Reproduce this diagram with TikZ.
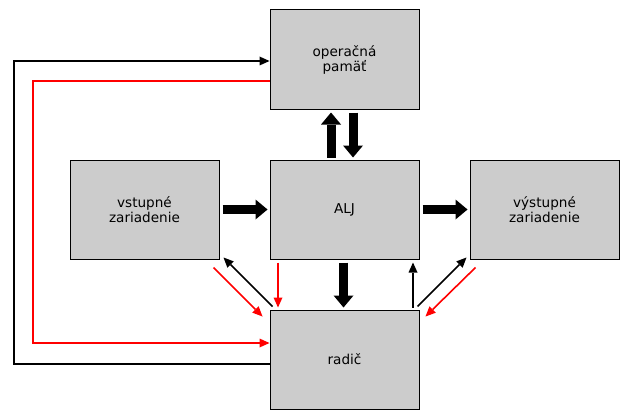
\documentclass[tikz,border=0pt]{standalone}
\usepackage{fontspec}
\setmainfont{DejaVu Sans}
\usetikzlibrary{arrows.meta}
\definecolor{boxgray}{HTML}{CCCCCC}
\definecolor{myred}{HTML}{FF0000}
\begin{document}
\begin{tikzpicture}[x=1pt,y=-1pt,
  unit/.style={draw=black, line width=1pt, fill=boxgray, minimum width=149pt,
    minimum height=99pt, inner sep=0pt, align=center,
    font=\fontsize{13.6}{15}\selectfont, text=black},
  bigarrow/.style={draw=black, line width=9pt,
    -{Triangle[width=20pt,length=12pt,line width=0pt]}},
  thinblack/.style={draw=black, line width=1.6pt,
    -{Triangle[width=9pt,length=10pt,line width=0pt]}},
  thinred/.style={draw=myred, line width=1.6pt,
    -{Triangle[width=9pt,length=10pt,line width=0pt]}},
  busline/.style={line width=2pt}
]
\useasboundingbox (0,0) rectangle (640,420);
\fill[white] (0,0) rectangle (640,420);

% units
\node[unit] (mem) at (344.5,59.5)  {operačná\\pamäť};
\node[unit] (alj) at (344.5,209.5) {ALJ};
\node[unit] (in)  at (144.5,209.5) {vstupné\\zariadenie};
\node[unit] (out) at (544.5,209.5) {výstupné\\zariadenie};
\node[unit] (rad) at (344.5,359.5) {radič};

% data paths (thick)
\draw[bigarrow] ([shift={(8.5,3)}]mem.south) -- ([shift={(8.5,-2)}]alj.north);
\draw[bigarrow] ([shift={(-13.5,-2)}]alj.north) -- ([shift={(-13.5,3)}]mem.south);
\draw[bigarrow] ([shift={(3,0)}]in.east) -- ([shift={(-2,0)}]alj.west);
\draw[bigarrow] ([shift={(3,0)}]alj.east) -- ([shift={(-2,0)}]out.west);
\draw[bigarrow] ([shift={(-1,3)}]alj.south) -- ([shift={(-1,-2)}]rad.north);

% outer loops
\coordinate (c1) at (13.5,364);
\coordinate (c2) at (33,81);
\draw[thinblack, busline] ([shift={(0,4.5)}]rad.west) -- (c1) |- ([shift={(0,1.5)}]mem.west);
\draw[thinred, busline] ([shift={(0,21.5)}]mem.west) -- (c2) |- ([shift={(0,-16.5)}]rad.west);

% control links
\draw[thinred]   ([shift={(-6,8)}]in.south east) -- ([shift={(-7,7)}]rad.north west);
\draw[thinblack] ([shift={(3,-3)}]rad.north west) -- ([shift={(4,-2)}]in.south east);
\draw[thinred]   ([shift={(8.5,3)}]alj.south west) -- ([shift={(8.5,-2)}]rad.north west);
\draw[thinblack] ([shift={(-6.5,-2)}]rad.north east) -- ([shift={(-6.5,3)}]alj.south east);
\draw[thinblack] ([shift={(-2,-3)}]rad.north east) -- ([shift={(-3,-2)}]out.south west);
\draw[thinred]   ([shift={(6,8)}]out.south west) -- ([shift={(6,7)}]rad.north east);
\end{tikzpicture}
\end{document}
